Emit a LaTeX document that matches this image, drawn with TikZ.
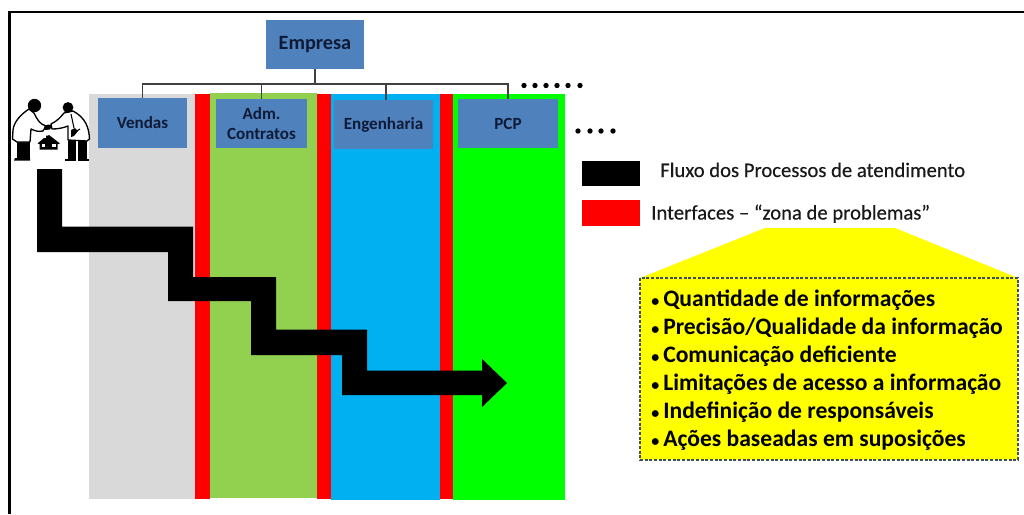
\documentclass[tikz,border=0pt]{standalone}
\usepackage{fontspec}
\setmainfont{Carlito}
\newfontfamily\legfont[FakeBold=0.3]{Carlito}
\definecolor{boxblue}{HTML}{4F81BD}
\definecolor{gray1}{HTML}{D9D9D9}
\definecolor{green1}{HTML}{92D050}
\definecolor{blue1}{HTML}{00B0F0}
\definecolor{green2}{HTML}{00FF00}
\definecolor{txtblue}{HTML}{0F1B36}
\definecolor{callout}{HTML}{FFFF00}
\definecolor{pure red}{HTML}{FF0000}
\definecolor{dotborder}{HTML}{3F4F5F}
\tikzset{
 x=0.75pt,y=-0.75pt,
 band/.style={fill=#1,draw=none},
 orgbox/.style={fill=boxblue,draw=none,font=\bfseries\fontsize{12.8}{14.4}\selectfont,text=txtblue,align=center,inner sep=0pt},
 orgline/.style={draw=black!75,line width=0.9pt},
 dotmark/.style={circle,fill=black,inner sep=0pt,minimum size=4pt},
 legtext/.style={anchor=base west,inner sep=0pt,font=\legfont\fontsize{15.5}{18}\selectfont,text=black!90},
 listtext/.style={anchor=base west,inner sep=0pt,font=\bfseries\fontsize{17.7}{20}\selectfont},
 coat/.style={fill=white,draw=black,line width=1pt,line join=round},
}
\begin{document}
\begin{tikzpicture}
\useasboundingbox (0,0) rectangle (1024,514);
\fill[white] (0,0) rectangle (1024,514);
% columns
\fill[band=gray1] (89,94) rectangle (195,499);
\fill[band=green1] (210,93) rectangle (317,498);
\fill[band=blue1] (331,94) rectangle (440,500);
\fill[band=green2] (453,94) rectangle (565,500);
\fill[band=pure red] (195,94) rectangle (210,499);
\fill[band=pure red] (317,94) rectangle (331,499);
\fill[band=pure red] (440,94) rectangle (453,499);
% org chart
\coordinate (bus) at (315,84);
\node[orgbox,minimum width=73.5pt,minimum height=37pt,font=\bfseries\fontsize{15.2}{18}\selectfont] (emp) at (315,44.5) {Empresa};
\node[orgbox,minimum width=66.75pt,minimum height=37.5pt] (ven) at (142.5,123) {\raisebox{-0.7pt}{Vendas}};
\node[orgbox,minimum width=68.25pt,minimum height=36.75pt] (adm) at (261.5,123.5) {Adm.\\Contratos};
\node[orgbox,minimum width=74.25pt,minimum height=36.75pt] (eng) at (383.5,124.5) {Engenharia};
\node[orgbox,minimum width=75pt,minimum height=36.75pt] (pcp) at (508,123.5) {\raisebox{-1pt}{PCP}};
\draw[orgline] (emp.south) -- (bus);
\draw[orgline] (ven.north) |- (bus);
\draw[orgline] (adm.north) |- (bus);
\draw[orgline] (386,100) |- (bus);
\draw[orgline] (pcp.north) |- (bus);
% dots
\foreach \i/\x in {a/524,b/535,c/546,d/557,e/568,f/580}{\node[dotmark] (r\i) at (\x,85.5) {};}
\foreach \i/\x in {a/578,b/590,c/601,d/613}{\node[dotmark] (s\i) at (\x,131) {};}
% people
\fill[black] (17,141) rectangle (30,158);
\fill[black] (15,158) -- (30,158) -- (30,160.5) -- (14,160.5) -- cycle;
\fill[black] (68,140) rectangle (76,160);
\fill[black] (78,140) rectangle (87,160);
\fill[black] (65,158.5) -- (76,158.5) -- (76,161) -- (65,161) -- cycle;
\fill[black] (78,158.5) -- (89,158.5) -- (89,161) -- (78,161) -- cycle;
\draw[coat] (29,109) .. controls (20,115) and (14,122) .. (13,130) -- (12.5,139) -- (17,142) -- (30,142) -- (31,129) .. controls (35,131) and (39,132) .. (43,131) -- (46,126) .. controls (40,124) and (38,121) .. (34,113) -- cycle;
\draw[coat] (64,113) .. controls (60,118) and (57,121) .. (51,124) -- (52,129) .. controls (58,129) and (63,128) .. (68,126) -- (68,140) -- (87,141) -- (89.5,139) .. controls (89,128) and (86,118) .. (73,111) -- cycle;
\fill[black] (34.5,105.5) circle[radius=6.7];
\fill[black] (68,107.5) circle[radius=5.4];
\fill[black] (44,127) .. controls (46,124) and (50,124) .. (52,126) -- (50,129.5) -- (45,130) -- cycle;
\draw[black,line width=0.8pt] (71,114) -- (74,128);
\fill[black] (71,130) -- (75,128) -- (78,131) -- (74,136) -- (71,137) -- cycle;
\draw[black,line width=0.8pt] (75,132) -- (80,129);
% house
\fill[black] (37.5,143.5) -- (44,138) -- (46,138) -- (46,135.5) -- (48,135.5) -- (49,135) -- (60,143.5) -- (57.5,144) -- (57.5,149.5) -- (39.5,149.5) -- (39.5,144) -- cycle;
\fill[white] (41.5,143.5) rectangle (45,147);
\fill[white] (52,143.5) rectangle (55.5,147);
% flow arrow
\fill[black] (37,169) -- (62,169) -- (62,226.5) -- (193,226.5) -- (193,277) -- (276,277) -- (276,329.5) -- (367,329.5) -- (367,370.5) -- (482,370.5) -- (482,359) -- (507,383) -- (482,407) -- (482,395) -- (342,395) -- (342,355) -- (251,355) -- (251,301) -- (168,301) -- (168,252) -- (37,252) -- cycle;
% legend
\fill[black] (582,161) rectangle (640,186);
\fill[pure red] (582,200) rectangle (640,226);
\node[legtext] (l1) at (660,177) {Fluxo dos Processos de atendimento};
\node[legtext] (l2) at (651,219.5) {Interfaces – “zona de problemas”};
% yellow callout
\fill[callout] (765,228) -- (895,228) -- (1018,278) -- (640,278) -- cycle;
\fill[callout] (640,278) rectangle (1018,460);
\draw[dotborder,line width=2.2pt,dash pattern=on 2.2pt off 1.3pt] (640,278) rectangle (1018,460);
\foreach \n/\y/\t in {a/306.5/{Quantidade de informações},b/334.5/{Precisão/Qualidade da informação},c/362.5/{Comunicação deficiente},d/390.5/{Limitações de acesso a informação},e/418.5/{Indefinição de responsáveis},f/446.5/{Ações baseadas em suposições}}{
 \node[listtext] (b\n) at (651,\y) {\fontsize{12}{12}\selectfont •};
 \node[listtext] (t\n) at (663,\y) {\t};
}
% frame
\draw[black,line width=1.9pt] (9.7,514) -- (9.7,12.2) -- (1024,12.2);
\end{tikzpicture}
\end{document}
